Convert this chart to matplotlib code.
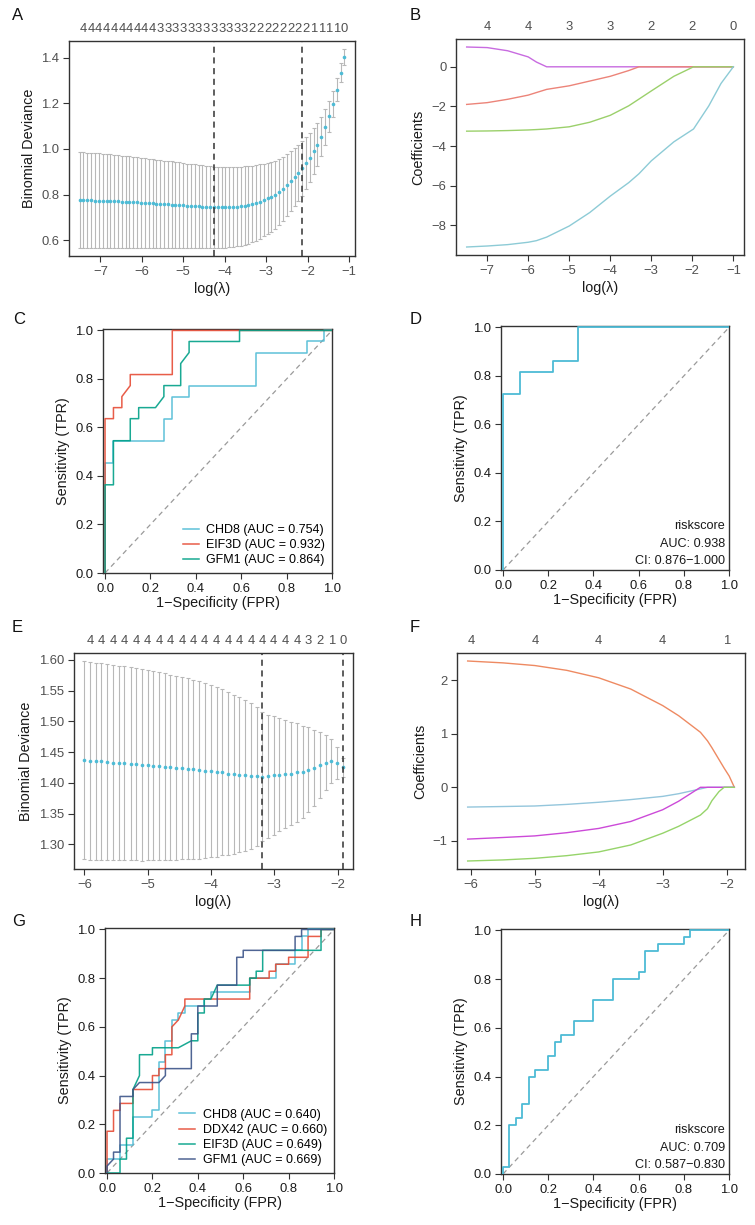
import matplotlib
matplotlib.use("Agg")
import matplotlib.pyplot as plt
import numpy as np

plt.rcParams['font.family'] = ['Liberation Sans', 'DejaVu Sans']

W, H = 755, 1225

# ---------------- panel A : cv deviance, set 1
lam_a = [-7.50, -7.41, -7.31, -7.22, -7.13, -7.04, -6.94, -6.85, -6.76, -6.67,
         -6.57, -6.48, -6.39, -6.30, -6.20, -6.11, -6.02, -5.93, -5.83, -5.74,
         -5.65, -5.56, -5.46, -5.37, -5.28, -5.19, -5.09, -5.00, -4.91, -4.81,
         -4.72, -4.63, -4.54, -4.44, -4.35, -4.26, -4.17, -4.07, -3.98, -3.89,
         -3.80, -3.70, -3.61, -3.52, -3.43, -3.33, -3.24, -3.15, -3.06, -2.96,
         -2.87, -2.78, -2.69, -2.59, -2.50, -2.41, -2.31, -2.22, -2.13, -2.04,
         -1.94, -1.85, -1.76, -1.67, -1.57, -1.48, -1.39, -1.30, -1.20, -1.11]
dev_a = [0.775, 0.775, 0.774, 0.774, 0.773, 0.773, 0.772, 0.772, 0.771, 0.770,
         0.770, 0.769, 0.768, 0.767, 0.766, 0.765, 0.764, 0.763, 0.762, 0.761,
         0.760, 0.759, 0.758, 0.757, 0.756, 0.755, 0.754, 0.752, 0.751, 0.750,
         0.749, 0.748, 0.747, 0.746, 0.745, 0.744, 0.744, 0.744, 0.744, 0.744,
         0.745, 0.746, 0.748, 0.751, 0.754, 0.758, 0.763, 0.769, 0.776, 0.783,
         0.790, 0.798, 0.810, 0.825, 0.842, 0.858, 0.876, 0.895, 0.915, 0.937,
         0.962, 0.990, 1.018, 1.054, 1.096, 1.143, 1.197, 1.260, 1.335, 1.404]
se_a = [0.210, 0.210, 0.209, 0.209, 0.208, 0.208, 0.207, 0.206, 0.205, 0.204,
        0.203, 0.202, 0.201, 0.200, 0.199, 0.198, 0.197, 0.196, 0.195, 0.194,
        0.193, 0.192, 0.191, 0.190, 0.189, 0.188, 0.187, 0.186, 0.185, 0.184,
        0.183, 0.182, 0.181, 0.180, 0.179, 0.178, 0.178, 0.177, 0.177, 0.176,
        0.175, 0.174, 0.173, 0.172, 0.170, 0.168, 0.166, 0.163, 0.160, 0.157,
        0.153, 0.149, 0.145, 0.140, 0.135, 0.131, 0.127, 0.124, 0.120, 0.115,
        0.108, 0.101, 0.094, 0.086, 0.078, 0.068, 0.058, 0.050, 0.042, 0.035]
nzero_a = [4] * 21 + [3] * 24 + [2] * 15 + [1] * 9 + [0]
min_a, se1_a = 35, 58

# ---------------- panel B : coefficient paths, set 1
lam_b = [-7.5, -7.0, -6.5, -6.0, -5.8, -5.55, -5.0, -4.5, -4.0, -3.55, -3.3,
         -3.0, -2.45, -1.97, -1.6, -1.3, -1.0]
coef_b1 = [1.00, 0.97, 0.81, 0.50, 0.24, 0.0, 0, 0, 0, 0, 0, 0, 0, 0, 0, 0, 0]
coef_b2 = [-1.90, -1.81, -1.64, -1.43, -1.30, -1.14, -0.96, -0.72, -0.48, -0.19,
           0.0, 0, 0, 0, 0, 0, 0]
coef_b3 = [-3.25, -3.24, -3.22, -3.19, -3.17, -3.14, -3.03, -2.80, -2.45, -1.97,
           -1.63, -1.22, -0.48, 0.0, 0, 0, 0]
coef_b4 = [-9.10, -9.05, -8.98, -8.86, -8.78, -8.60, -8.04, -7.36, -6.53, -5.85,
           -5.40, -4.75, -3.79, -3.14, -1.98, -0.84, 0.0]
col_b = ['#C86BE0', '#EC8479', '#9BD06B', '#8DCBD6']

# ---------------- panel C : single-gene ROC, set 1 (22 pos, 27 neg)
npos_c, nneg_c = 22, 27
genes_c = ['CHD8', 'EIF3D', 'GFM1']
auc_c = ['0.754', '0.932', '0.864']
col_c = ['#4DBBD5', '#E64B35', '#00A087']
fp_c = [[0, 0, 1, 1, 7, 7, 8, 8, 10, 10, 18, 18, 24, 24, 26, 26, 27],
        [0, 0, 1, 1, 2, 2, 3, 3, 8, 8, 27],
        [0, 0, 1, 1, 3, 3, 4, 4, 6, 7, 7, 9, 9, 10, 10, 16, 16, 27]]
tp_c = [[0, 10, 10, 12, 12, 14, 14, 16, 16, 17, 17, 20, 20, 21, 21, 22, 22],
        [0, 14, 14, 15, 15, 16, 17, 18, 18, 22, 22],
        [0, 8, 8, 12, 12, 14, 14, 15, 15, 16, 17, 17, 19, 20, 21, 21, 22, 22]]

# ---------------- panel D : riskscore ROC, set 1
fp_d = [0, 0, 2, 2, 6, 6, 9, 9, 27]
tp_d = [0, 16, 16, 18, 18, 19, 19, 22, 22]
text_d = ['riskscore', 'AUC: 0.938', 'CI: 0.876\u22121.000']

# ---------------- panel E : cv deviance, set 2
lam_e = [-6.00, -5.91, -5.82, -5.73, -5.64, -5.55, -5.46, -5.37, -5.27, -5.18,
         -5.09, -5.00, -4.91, -4.82, -4.73, -4.64, -4.55, -4.46, -4.37, -4.28,
         -4.19, -4.10, -4.00, -3.91, -3.82, -3.73, -3.64, -3.55, -3.46, -3.37,
         -3.28, -3.19, -3.10, -3.01, -2.92, -2.83, -2.74, -2.64, -2.55, -2.46,
         -2.37, -2.28, -2.19, -2.10, -2.01, -1.92]
dev_e = [1.437, 1.436, 1.435, 1.435, 1.434, 1.433, 1.432, 1.432, 1.431, 1.430,
         1.429, 1.429, 1.428, 1.427, 1.426, 1.425, 1.424, 1.424, 1.423, 1.422,
         1.421, 1.420, 1.419, 1.418, 1.417, 1.415, 1.414, 1.413, 1.412, 1.411,
         1.411, 1.410, 1.411, 1.412, 1.413, 1.414, 1.415, 1.417, 1.418, 1.421,
         1.424, 1.429, 1.433, 1.436, 1.433, 1.425]
se_e = [0.161, 0.161, 0.160, 0.160, 0.159, 0.159, 0.158, 0.158, 0.157, 0.156,
        0.156, 0.155, 0.154, 0.153, 0.152, 0.151, 0.150, 0.148, 0.147, 0.145,
        0.144, 0.142, 0.140, 0.138, 0.135, 0.132, 0.129, 0.126, 0.122, 0.118,
        0.113, 0.105, 0.100, 0.096, 0.092, 0.088, 0.084, 0.080, 0.075, 0.069,
        0.062, 0.054, 0.045, 0.036, 0.026, 0.016]
nzero_e = [4] * 39 + [3] * 2 + [2] * 2 + [1] * 2 + [0]
min_e, se1_e = 31, 45

# ---------------- panel F : coefficient paths, set 2
lam_f = [-6.05, -5.5, -5.0, -4.5, -4.0, -3.5, -3.0, -2.75, -2.41, -2.3, -2.23,
         -2.12, -2.04, -1.96, -1.88]
coef_f1 = [2.365, 2.33, 2.28, 2.19, 2.05, 1.84, 1.53, 1.34, 1.03, 0.87, 0.74,
           0.52, 0.36, 0.21, 0.0]
coef_f2 = [-0.37, -0.36, -0.35, -0.32, -0.28, -0.23, -0.17, -0.12, -0.03, 0.0,
           0, 0, 0, 0, 0]
coef_f3 = [-0.97, -0.94, -0.91, -0.85, -0.77, -0.64, -0.42, -0.26, 0.0, 0, 0,
           0, 0, 0, 0]
coef_f4 = [-1.38, -1.36, -1.33, -1.28, -1.21, -1.08, -0.86, -0.73, -0.52, -0.40,
           -0.25, -0.08, 0.0, 0, 0]
col_f = ['#EE8A62', '#94C6DC', '#CC4AD8', '#96D46A']

# ---------------- panel G : single-gene ROC, set 2 (35 pos, 35 neg)
npos_g, nneg_g = 35, 35
genes_g = ['CHD8', 'DDX42', 'EIF3D', 'GFM1']
auc_g = ['0.640', '0.660', '0.649', '0.669']
col_g = ['#4DBBD5', '#E64B35', '#00A087', '#3C5488']
fp_g = [[0, 0, 2, 2, 4, 4, 7, 7, 8, 8, 9, 9, 10, 10, 11, 11, 12, 12, 15, 15, 16,
         16, 22, 22, 26, 26, 29, 29, 30, 30, 31, 31, 35],
        [0, 0, 1, 1, 2, 2, 4, 4, 7, 7, 8, 8, 9, 9, 10, 10, 11, 12, 12, 22, 22, 25,
         25, 26, 26, 28, 28, 31, 31, 33, 33, 35],
        [0, 2, 2, 3, 3, 4, 4, 5, 5, 7, 7, 11, 13, 14, 14, 15, 15, 16, 17, 22, 22,
         23, 23, 24, 24, 33, 33, 35],
        [0, 0, 1, 1, 2, 2, 4, 4, 5, 8, 9, 9, 13, 13, 14, 14, 17, 17, 20, 20, 21,
         21, 29, 29, 30, 30, 35]]
tp_g = [[0, 2, 2, 4, 4, 8, 8, 9, 9, 16, 16, 19, 19, 22, 22, 23, 23, 24, 24, 25,
         25, 26, 26, 28, 28, 30, 30, 32, 32, 34, 34, 35, 35],
        [0, 6, 6, 9, 9, 10, 10, 12, 12, 14, 14, 15, 15, 17, 17, 21, 22, 24, 25, 25,
         28, 28, 29, 29, 30, 30, 31, 31, 34, 34, 35, 35],
        [0, 0, 2, 2, 5, 5, 12, 14, 17, 17, 18, 18, 19, 19, 23, 23, 25, 25, 27, 27,
         28, 28, 29, 29, 32, 32, 35, 35],
        [0, 1, 2, 3, 3, 11, 11, 12, 13, 13, 14, 15, 15, 20, 20, 24, 24, 27, 27, 31,
         31, 32, 32, 34, 34, 35, 35]]

# ---------------- panel H : riskscore ROC, set 2
fp_h = [0, 0, 1, 1, 2, 2, 3, 3, 4, 4, 5, 5, 7, 7, 8, 8, 9, 9, 11, 11, 14, 14, 17,
        17, 21, 21, 22, 22, 24, 24, 28, 28, 29, 29, 35]
tp_h = [0, 1, 1, 7, 7, 8, 8, 10, 10, 14, 14, 15, 15, 17, 17, 19, 19, 20, 20, 22,
        22, 25, 25, 28, 28, 29, 29, 32, 32, 33, 33, 34, 34, 35, 35]
text_h = ['riskscore', 'AUC: 0.709', 'CI: 0.587\u22120.830']

DOT = '#4DBBD5'
GREY_TXT = '#505050'
TICK_FS = 9.4
LAB_FS = 10.4


def px_axes(fig, l, r, t, b):
    return fig.add_axes([l / W, 1 - b / H, (r - l) / W, (b - t) / H])


def style(ax, tickcol):
    for s in ax.spines.values():
        s.set_color('#333333')
        s.set_linewidth(1.0)
    ax.tick_params(direction='out', length=4.5, width=0.8, color='#333333',
                   labelcolor=tickcol, labelsize=TICK_FS, pad=2.5)


def cv_panel(ax, lam, dev, se, nzero, imin, i1se, yticks, yfmt):
    ax.errorbar(lam, dev, yerr=se, fmt='none', ecolor='#B8B8B8',
                elinewidth=0.8, capsize=1.7, capthick=0.8, zorder=2)
    ax.plot(lam, dev, 'o', ms=2.6, color=DOT, mec='none', zorder=3)
    ax.axvline(lam[imin], color='#333333', lw=1.1, ls=(0, (4, 3)), zorder=4)
    ax.axvline(lam[i1se], color='#333333', lw=1.1, ls=(0, (4, 3)), zorder=4)
    ax.margins(x=0.04, y=0.04)
    ax.set_yticks(yticks)
    ax.set_yticklabels([yfmt.format(v) for v in yticks])
    style(ax, GREY_TXT)
    idx = list(range(len(lam) - 1, -1, -2))
    top = ax.secondary_xaxis('top')
    top.set_xticks([lam[i] for i in idx])
    top.set_xticklabels([str(nzero[i]) for i in idx])
    top.tick_params(length=0, labelsize=TICK_FS, labelcolor=GREY_TXT, pad=4)
    top.spines['top'].set_visible(False)
    ax.set_xlabel('log(\u03bb)', fontsize=LAB_FS, color='#1a1a1a', labelpad=3)
    ax.set_ylabel('Binomial Deviance', fontsize=LAB_FS, color='#1a1a1a', labelpad=4)


def path_panel(ax, lam, paths, cols, xticks, lam_ref, nzero_ref, yticks):
    for p, c in zip(paths, cols):
        ax.plot(lam, p, color=c, lw=1.0)
    ax.margins(x=0.04, y=0.04)
    ax.set_xticks(xticks)
    ax.set_yticks(yticks)
    style(ax, GREY_TXT)
    ref = np.array(lam_ref)
    labs = [str(nzero_ref[int(np.argmin(np.abs(ref - t)))]) for t in xticks]
    top = ax.secondary_xaxis('top')
    top.set_xticks(xticks)
    top.set_xticklabels(labs)
    top.tick_params(length=0, labelsize=TICK_FS, labelcolor=GREY_TXT, pad=4)
    top.spines['top'].set_visible(False)
    ax.set_xlabel('log(\u03bb)', fontsize=LAB_FS, color='#1a1a1a', labelpad=3)
    ax.set_ylabel('Coefficients', fontsize=LAB_FS, color='#1a1a1a', labelpad=4)


def roc_frame(ax):
    ax.plot([0, 1], [0, 1], color='#9A9A9A', lw=0.9, ls=(0, (4, 3)), zorder=1)
    ax.set_xlim(-0.009, 1.0)
    ax.set_ylim(0.0, 1.006)
    ticks = [0, 0.2, 0.4, 0.6, 0.8, 1.0]
    ax.set_xticks(ticks)
    ax.set_yticks(ticks)
    ax.set_xticklabels(['%.1f' % t for t in ticks])
    ax.set_yticklabels(['%.1f' % t for t in ticks])
    style(ax, '#1a1a1a')
    ax.set_xlabel('1\u2212Specificity (FPR)', fontsize=LAB_FS, color='#1a1a1a', labelpad=1)
    ax.set_ylabel('Sensitivity (TPR)', fontsize=LAB_FS, color='#1a1a1a', labelpad=4)


def roc_multi(ax, fps, tps, nneg, npos, names, aucs, cols):
    for fp, tp, n, a, c in zip(fps, tps, names, aucs, cols):
        ax.plot(np.array(fp) / nneg, np.array(tp) / npos, color=c, lw=1.1,
                alpha=0.9, label='%s (AUC = %s)' % (n, a), zorder=3)
    roc_frame(ax)
    ax.legend(loc='lower right', frameon=False, fontsize=9.0, handlelength=1.3,
              handletextpad=0.6, labelspacing=0.25, borderaxespad=0.15,
              bbox_to_anchor=(1.0, 0.0))


def roc_single(ax, fp, tp, nneg, npos, lines):
    ax.plot(np.array(fp) / nneg, np.array(tp) / npos, color=DOT, lw=1.3, zorder=3)
    roc_frame(ax)
    for s, yy in zip(lines, [0.18, 0.108, 0.037]):
        ax.text(0.982, yy, s, transform=ax.transAxes, ha='right', va='center',
                fontsize=9.1, color='#1a1a1a')


fig = plt.figure(figsize=(W / 100, H / 100), dpi=100)

axA = px_axes(fig, 69, 355, 41, 256)
cv_panel(axA, lam_a, dev_a, se_a, nzero_a, min_a, se1_a,
         [0.6, 0.8, 1.0, 1.2, 1.4], '{:.1f}')
axA.set_xticks([-7, -6, -5, -4, -3, -2, -1])

axB = px_axes(fig, 456, 744, 39, 255)
path_panel(axB, lam_b, [coef_b1, coef_b2, coef_b3, coef_b4], col_b,
           [-7, -6, -5, -4, -3, -2, -1], lam_a, nzero_a, [0, -2, -4, -6, -8])

axC = px_axes(fig, 103, 332, 329, 573)
roc_multi(axC, fp_c, tp_c, nneg_c, npos_c, genes_c, auc_c, col_c)

axD = px_axes(fig, 501, 729, 326, 570)
roc_single(axD, fp_d, tp_d, nneg_c, npos_c, text_d)

axE = px_axes(fig, 74, 353, 653, 869)
cv_panel(axE, lam_e, dev_e, se_e, nzero_e, min_e, se1_e,
         [1.30, 1.35, 1.40, 1.45, 1.50, 1.55, 1.60], '{:.2f}')
axE.set_xticks([-6, -5, -4, -3, -2])

axF = px_axes(fig, 457, 745, 653, 869)
path_panel(axF, lam_f, [coef_f1, coef_f2, coef_f3, coef_f4], col_f,
           [-6, -5, -4, -3, -2], lam_e, nzero_e, [-1, 0, 1, 2])

axG = px_axes(fig, 105, 334, 928, 1173)
roc_multi(axG, fp_g, tp_g, nneg_g, npos_g, genes_g, auc_g, col_g)

axH = px_axes(fig, 501, 729, 929, 1174)
roc_single(axH, fp_h, tp_h, nneg_g, npos_g, text_h)

for lab, x, y in [('A', 12, 15), ('B', 410, 15), ('C', 13, 320), ('D', 410, 320),
                  ('E', 12, 628), ('F', 410, 628), ('G', 12, 922), ('H', 410, 922)]:
    fig.text(x / W, 1 - y / H, lab, fontsize=12, ha='left', va='center',
             color='#111111')

fig.savefig('out.png', dpi=100)
